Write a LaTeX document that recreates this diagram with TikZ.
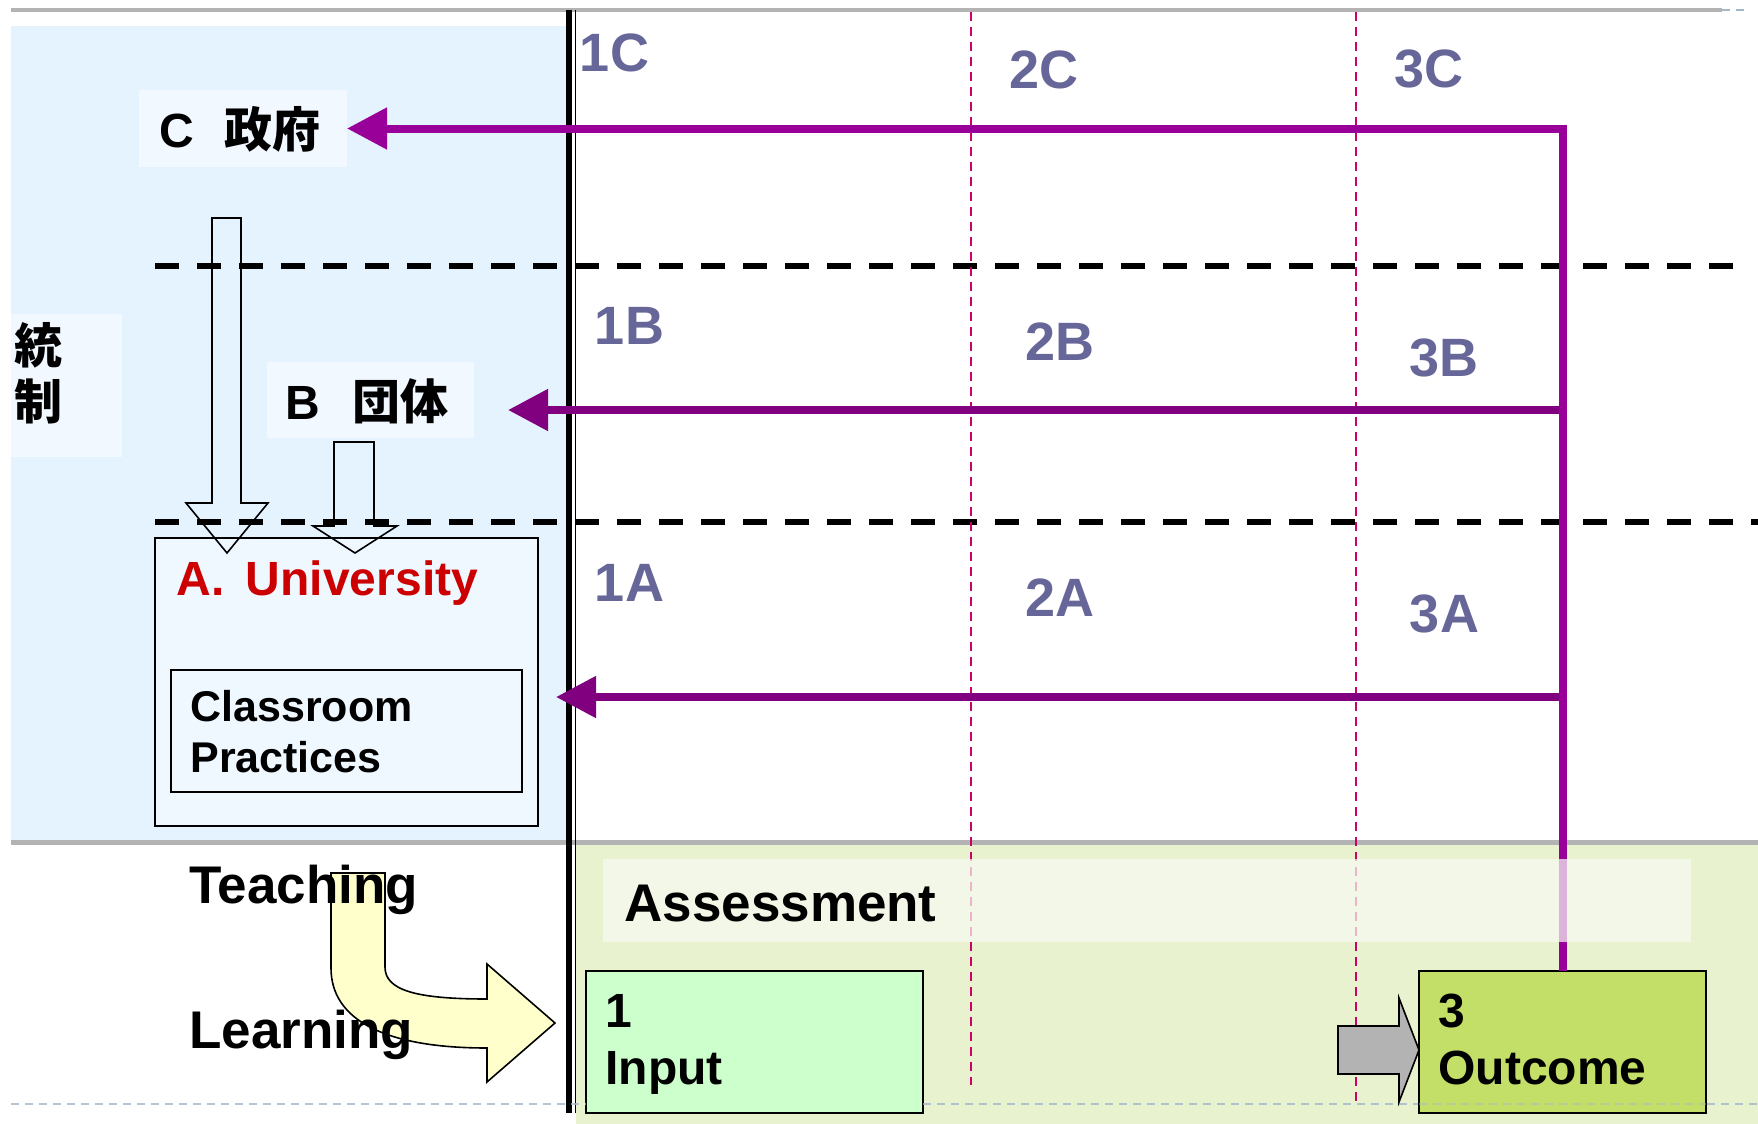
\documentclass[tikz,border=0pt]{standalone}
\usepackage{fontspec}
\setmainfont{Liberation Sans}
\newfontfamily\jp{Noto Sans CJK JP}
\usetikzlibrary{fit,arrows.meta}
\definecolor{bgblue}{HTML}{E5F3FF}
\definecolor{boxblue}{HTML}{F2F8FF}
\definecolor{unifill}{HTML}{EFF7FF}
\definecolor{bggreen}{HTML}{E8F2CE}
\definecolor{assessfill}{HTML}{F8FAF2}
\definecolor{inputfill}{HTML}{CCFFCC}
\definecolor{outfill}{HTML}{C4DF68}
\definecolor{purpC}{HTML}{990099}
\definecolor{purpB}{HTML}{800080}
\definecolor{pinkline}{HTML}{CC0066}
\definecolor{labelc}{HTML}{666699}
\definecolor{unired}{HTML}{CC0000}
\definecolor{rulegray}{HTML}{B3B3B3}
\definecolor{slideblue}{HTML}{A3B7CC}
\definecolor{arrowyellow}{HTML}{FFFFCC}
\definecolor{arrowgray}{HTML}{B3B3B3}
\begin{document}
\begin{tikzpicture}[x=0.5pt,y=-0.5pt,
  plainbox/.style={inner sep=0pt,outer sep=0pt},
  lbl/.style={inner sep=0pt,font=\fontsize{27}{30}\selectfont\bfseries,text=labelc},
  txt/.style={inner sep=0pt,anchor=base west,align=left},
  rowline/.style={line width=2.75pt,dash pattern=on 12pt off 9pt},
  colline/.style={line width=1.25pt,draw=pinkline,dash pattern=on 4.5pt off 3pt},
  feedback/.style={line width=4pt,-{Triangle[length=20pt,width=20pt]}},
  blockarrow/.style={draw=black,line width=0.8pt,line join=miter}
]
\useasboundingbox (0,0) rectangle (1758,1124);
\fill[white] (0,0) rectangle (1758,1124);

% background regions
\fill[bgblue] (11,26) rectangle (566,842);
\fill[bggreen] (576,844) rectangle (1758,1124);

% rules
\draw[rulegray,line width=2.25pt] (11,10) -- (1722,10);
\draw[slideblue,line width=1pt,dash pattern=on 4pt off 3pt] (1722,10) -- (1745,10);
\draw[rulegray,line width=2.5pt] (11,842) -- (1758,842);
\draw[black,line width=3.25pt] (569,10) -- (569,1113);
\draw[black,line width=0.8pt] (575.5,10) -- (575.5,1113);

% left boxes
\node[plainbox,fill=boxblue,fit={(11,314) (122,457)}] (tousei) {};
\node[inner sep=0pt,align=center,font=\jp\bfseries\fontsize{24}{28}\selectfont] (touseitext) at (38,373) {統\\制};
\node[plainbox,fill=boxblue,fit={(139,90) (347,167)}] (cgov) {};
\node[txt,font=\fontsize{24}{28}\selectfont\bfseries] (cgovtext) at (159,147) {C\hspace{15pt}{\jp 政府}};
\node[plainbox,fill=boxblue,fit={(267,362) (474,438)}] (bgrp) {};
\node[txt,font=\fontsize{24}{28}\selectfont\bfseries] (bgrptext) at (285.5,419) {B\hspace{16pt}{\jp 団体}};

\node[plainbox,draw=black,line width=1pt,fill=unifill,fit={(155,538) (538,826)}] (univ) {};
\node[txt,font=\fontsize{24}{28}\selectfont\bfseries,text=unired] (univtext) at (176,595.5) {A.\hspace{0.45em}University};
\node[plainbox,draw=black,line width=1pt,fill=unifill,fit={(171,670) (522,792)}] (classroom) {};
\node[txt,font=\fontsize{21.5}{25.8}\selectfont\bfseries] (classtext) at (190,772.6) {Classroom\\Practices};

% block arrows down
\draw[blockarrow] (212,218) -- (241,218) -- (241,503) -- (268,503) -- (227,553) -- (186,503) -- (212,503) -- cycle;
\draw[blockarrow] (334,442) -- (374,442) -- (374,526) -- (397,526) -- (355,553) -- (313,526) -- (334,526) -- cycle;

% row separators
\draw[rowline] (155,266) -- (1733,266);
\draw[rowline] (155,522) -- (1758,522);

% column separators
\draw[colline] (971,12) -- (971,1085);
\draw[colline] (1356,12) -- (1356,1102);

% cell labels
\node[lbl] (l1C) at (614.5,53) {1C};
\node[lbl] (l2C) at (1044,70) {2C};
\node[lbl] (l3C) at (1429,69) {3C};
\node[lbl] (l1B) at (629.5,326) {1B};
\node[lbl] (l2B) at (1060,342) {2B};
\node[lbl] (l3B) at (1444,358) {3B};
\node[lbl] (l1A) at (629.5,582.5) {1A};
\node[lbl] (l2A) at (1060,598) {2A};
\node[lbl] (l3A) at (1444.5,614) {3A};

% bottom boxes
\node[plainbox,draw=black,line width=1pt,fill=inputfill,fit={(586,971) (923,1113)}] (input) {};
\node[txt,font=\fontsize{24}{28.5}\selectfont\bfseries] (inputtext) at (605,1084) {1\\Input};

\draw[slideblue,opacity=0.8,line width=1pt,dash pattern=on 4pt off 3pt] (11,1104) -- (586,1104);
\draw[slideblue,opacity=0.8,line width=1pt,dash pattern=on 4pt off 3pt] (923,1104) -- (1758,1104);

\node[plainbox,draw=black,line width=1pt,fill=outfill,fit={(1419,971) (1706,1113)}] (outcome) {};
\node[txt,font=\fontsize{24}{28.5}\selectfont\bfseries] (outtext) at (1438,1084) {3\\Outcome};
\draw[slideblue,opacity=0.5,line width=1pt,dash pattern=on 4pt off 3pt] (1419,1104) -- (1706,1104);

% gray arrow into outcome
\draw[blockarrow,fill=arrowgray] (1338,1026) -- (1399,1026) -- (1399,998) -- (outcome.west |- 0,1050) -- (1399,1102) -- (1399,1074) -- (1338,1074) -- cycle;

% feedback arrows
\coordinate (tipB) at (508,410);
\coordinate (tipA) at (556,697);
\draw[feedback,draw=purpC] (outcome.north) |- (cgov.east);
\draw[feedback,draw=purpB] (outcome.north |- tipB) -- (tipB);
\draw[feedback,draw=purpB] (outcome.north |- tipA) -- (tipA);
\draw[purpC,line width=4pt] (outcome.north) -- (outcome.north |- cgov.east);

% teaching -> learning arrow
\draw[draw=black,line width=0.8pt,fill=arrowyellow,line join=miter]
  (331,873) -- (385,873) -- (385,967) .. controls (385,990) and (415,999) .. (487,999)
  -- (487,964) -- (555,1023) -- (487,1082) -- (487,1048)
  .. controls (385,1048) and (331,1020) .. (331,968) -- cycle;
\node[txt,font=\fontsize{26.5}{30}\selectfont\bfseries] (teaching) at (189,903) {Teaching};
\node[txt,font=\fontsize{26.5}{30}\selectfont\bfseries] (learning) at (189,1048) {Learning};

% assessment band
\node[plainbox,fill=assessfill,fill opacity=0.72,fit={(603,859) (1691,942)}] (assess) {};
\node[txt,font=\fontsize{26.5}{30}\selectfont\bfseries] (assesstext) at (624,921) {Assessment};
\end{tikzpicture}
\end{document}
